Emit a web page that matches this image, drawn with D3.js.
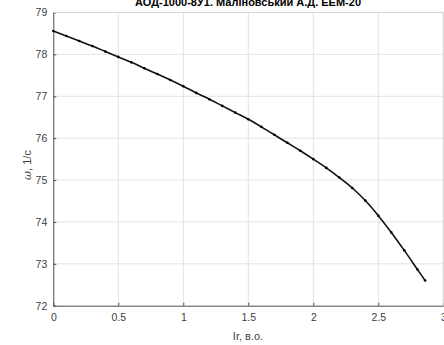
<!DOCTYPE html>
<html>
<head>
<meta charset="utf-8">
<script src="https://cdn.jsdelivr.net/npm/d3@7"></script>
<style>
  body { margin: 0; background: #fff; }
  svg { display: block; font-family: "Liberation Sans", Arial, sans-serif; }
</style>
</head>
<body>
<script>
/* data */
const current = [0, 0.1, 0.2, 0.3, 0.4, 0.5, 0.6, 0.7, 0.8, 0.9, 1.0, 1.1, 1.2, 1.3, 1.4, 1.5,
                 1.6, 1.7, 1.8, 1.9, 2.0, 2.1, 2.2, 2.3, 2.4, 2.5, 2.6, 2.7, 2.8, 2.86];
const omega = [78.56, 78.44, 78.32, 78.20, 78.07, 77.94, 77.81, 77.67, 77.53, 77.39, 77.24, 77.08,
               76.93, 76.77, 76.61, 76.45, 76.27, 76.08, 75.89, 75.70, 75.50, 75.29, 75.06, 74.81,
               74.51, 74.15, 73.75, 73.32, 72.87, 72.60];
const xTicks = [0, 0.5, 1, 1.5, 2, 2.5, 3];
const yTicks = [72, 73, 74, 75, 76, 77, 78, 79];
const title = "АОД-1000-8У1. Маліновський А.Д. ЕЕМ-20";

/* canvas */
const width = 444, height = 345;
const plot = { left: 53.3, right: 443.3, top: 12.5, bottom: 305.7 };

const svg = d3.select('body').append('svg')
      .attr('width', width).attr('height', height);

const xScale = d3.scaleLinear().domain([0, 3]).range([plot.left, plot.right]);
const yScale = d3.scaleLinear().domain([72, 79]).range([plot.bottom, plot.top]);

/* grid */
const grid = svg.append('g').attr('stroke', '#e3e3e3').attr('stroke-width', 1);
grid.selectAll('.gx').data(xTicks.slice(1)).enter().append('line')
    .attr('x1', d => xScale(d)).attr('x2', d => xScale(d))
    .attr('y1', plot.top).attr('y2', plot.bottom);
grid.selectAll('.gy').data(yTicks.slice(1)).enter().append('line')
    .attr('x1', plot.left).attr('x2', plot.right)
    .attr('y1', d => yScale(d)).attr('y2', d => yScale(d));

/* axes, matlab style ticks inside */
const xAxis = svg.append('g')
    .attr('transform', 'translate(0,' + plot.bottom + ')')
    .call(d3.axisBottom(xScale).tickValues(xTicks).tickFormat(d3.format('')).tickSizeInner(-3).tickSizeOuter(0).tickPadding(8));
const yAxis = svg.append('g')
    .attr('transform', 'translate(' + plot.left + ',0)')
    .call(d3.axisLeft(yScale).tickValues(yTicks).tickFormat(d3.format('d')).tickSizeInner(-3).tickSizeOuter(0).tickPadding(6));

[xAxis, yAxis].forEach(ax => {
  ax.select('.domain').attr('stroke', '#4d4d4d');
  ax.selectAll('.tick line').attr('stroke', '#4d4d4d');
  ax.selectAll('.tick text').attr('fill', '#404040').attr('font-size', 10.5)
    .attr('font-family', '"Liberation Sans", Arial, sans-serif');
});

/* light box top and right */
svg.append('path')
   .attr('d', 'M' + plot.left + ',' + plot.top + 'H' + plot.right + 'V' + plot.bottom)
   .attr('fill', 'none').attr('stroke', '#d6d6d6');

/* curve */
const pts = current.map((d, i) => [d, omega[i]]);
const line = d3.line().x(d => xScale(d[0])).y(d => yScale(d[1])).curve(d3.curveMonotoneX);
svg.append('path').datum(pts).attr('d', line)
   .attr('fill', 'none').attr('stroke', '#111').attr('stroke-width', 1.6);
svg.append('g').selectAll('circle').data(pts).enter().append('circle')
   .attr('cx', d => xScale(d[0])).attr('cy', d => yScale(d[1]))
   .attr('r', 1.3).attr('fill', '#000');

/* title and labels */
svg.append('text').attr('x', 248).attr('y', 5.5).attr('text-anchor', 'middle')
   .attr('font-size', 11).attr('font-weight', 'bold').attr('fill', '#000').text(title);
svg.append('text').attr('x', 248).attr('y', 340).attr('text-anchor', 'middle')
   .attr('font-size', 11).attr('fill', '#404040').text('Ir, в.о.');
const yl = svg.append('text').attr('transform', 'translate(31,165) rotate(-90)')
   .attr('text-anchor', 'middle').attr('font-size', 11).attr('fill', '#404040');
yl.append('tspan').attr('font-style', 'italic').attr('font-family', '"DejaVu Serif", serif').text('ω');
yl.append('tspan').text(', 1/с');
</script>
</body>
</html>
